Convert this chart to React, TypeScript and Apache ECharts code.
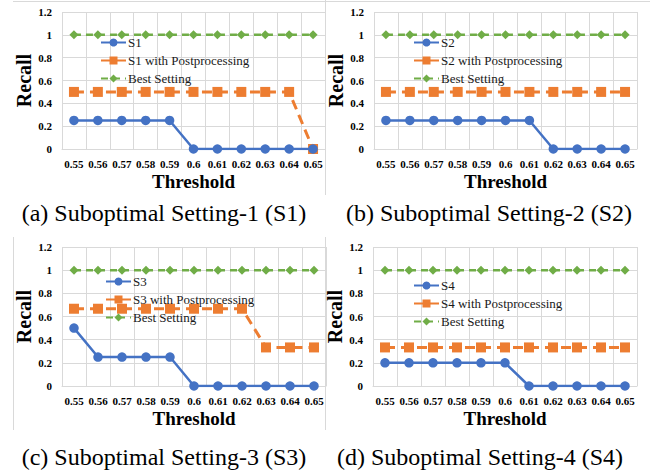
import React, { useEffect, useRef } from "react";
import * as echarts from "echarts";

const categories = ["0.55", "0.56", "0.57", "0.58", "0.59", "0.6", "0.61", "0.62", "0.63", "0.64", "0.65"];

const s1 = [0.25, 0.25, 0.25, 0.25, 0.25, 0, 0, 0, 0, 0, 0];
const s1Post = [0.5, 0.5, 0.5, 0.5, 0.5, 0.5, 0.5, 0.5, 0.5, 0.5, 0];
const s2 = [0.25, 0.25, 0.25, 0.25, 0.25, 0.25, 0.25, 0, 0, 0, 0];
const s2Post = [0.5, 0.5, 0.5, 0.5, 0.5, 0.5, 0.5, 0.5, 0.5, 0.5, 0.5];
const s3 = [0.5, 0.25, 0.25, 0.25, 0.25, 0, 0, 0, 0, 0, 0];
const s3Post = [0.667, 0.667, 0.667, 0.667, 0.667, 0.667, 0.667, 0.667, 0.333, 0.333, 0.333];
const s4 = [0.2, 0.2, 0.2, 0.2, 0.2, 0.2, 0, 0, 0, 0, 0];
const s4Post = [0.333, 0.333, 0.333, 0.333, 0.333, 0.333, 0.333, 0.333, 0.333, 0.333, 0.333];
const best = [1, 1, 1, 1, 1, 1, 1, 1, 1, 1, 1];

const panelNames = ["S1", "S2", "S3", "S4"];
const captions = [
  "(a) Suboptimal Setting-1 (S1)",
  "(b) Suboptimal Setting-2 (S2)",
  "(c) Suboptimal Setting-3 (S3)",
  "(d) Suboptimal Setting-4 (S4)",
];
const panelData = [
  [s1, s1Post],
  [s2, s2Post],
  [s3, s3Post],
  [s4, s4Post],
];

const SERIF = "Liberation Serif";
const BLUE = "#4472C4";
const ORANGE = "#ED7D31";
const GREEN = "#70AD47";
const GRIDC = "#d9d9d9";

// layout
const grids = [
  { left: 62, top: 12, width: 263, height: 137 },
  { left: 374, top: 12, width: 263, height: 137 },
  { left: 62, top: 247, width: 264, height: 139 },
  { left: 373, top: 247, width: 264, height: 139 },
];
const legendPos = [
  { left: 100, top: 36 },
  { left: 413, top: 36 },
  { left: 105, top: 275 },
  { left: 413, top: 279 },
];
const captionPos = [
  { x: 164, y: 213 },
  { x: 489, y: 213 },
  { x: 164, y: 457 },
  { x: 480, y: 457 },
];

export default function App() {
  const ref = useRef<HTMLDivElement>(null);
  useEffect(() => {
    if (!ref.current) return;
    const chart = echarts.init(ref.current, null, { renderer: "svg" });
    const grid: any[] = [];
    const xAxis: any[] = [];
    const yAxis: any[] = [];
    const series: any[] = [];
    const legend: any[] = [];
    const graphic: any[] = [];
    panelNames.forEach((nm, i) => {
      grid.push({ ...grids[i], containLabel: false });
      xAxis.push({
        type: "category",
        gridIndex: i,
        data: categories,
        boundaryGap: true,
        axisLine: { show: true, lineStyle: { color: GRIDC, width: 1 } },
        axisTick: { show: false },
        splitLine: { show: true, interval: 0, lineStyle: { color: GRIDC, width: 1 } },
        axisLabel: {
          interval: 0,
          margin: 9,
          fontFamily: SERIF,
          fontWeight: "bold",
          fontSize: 11,
          color: "#000",
        },
        name: "Threshold",
        nameLocation: "middle",
        nameGap: 23,
        nameTextStyle: { fontFamily: SERIF, fontWeight: "bold", fontSize: 19, color: "#000" },
      });
      yAxis.push({
        type: "value",
        gridIndex: i,
        min: 0,
        max: 1.2,
        interval: 0.2,
        axisLine: { show: false },
        axisTick: { show: false },
        splitLine: { show: true, lineStyle: { color: GRIDC, width: 1 } },
        axisLabel: {
          margin: 10,
          fontFamily: SERIF,
          fontWeight: "bold",
          fontSize: 11,
          color: "#000",
          formatter: (v: number) => String(parseFloat(v.toFixed(1))),
        },
        name: "Recall",
        nameLocation: "middle",
        nameGap: 22,
        nameRotate: 90,
        nameTextStyle: { fontFamily: SERIF, fontWeight: "bold", fontSize: 20, color: "#000" },
      });
      const [sv, pv] = panelData[i];
      const postName = nm + " with Postprocessing";
      series.push({
        name: nm,
        type: "line",
        xAxisIndex: i,
        yAxisIndex: i,
        data: sv,
        symbol: "circle",
        symbolSize: 9.5,
        itemStyle: { color: BLUE },
        lineStyle: { color: BLUE, width: 2.5 },
        z: 4,
      });
      series.push({
        name: postName,
        type: "line",
        xAxisIndex: i,
        yAxisIndex: i,
        data: pv,
        symbol: "rect",
        symbolSize: 10,
        itemStyle: { color: ORANGE },
        lineStyle: { color: ORANGE, width: 3, type: [10, 6] },
        z: 3,
      });
      series.push({
        name: "Best Setting",
        type: "line",
        xAxisIndex: i,
        yAxisIndex: i,
        data: best,
        symbol: "diamond",
        symbolSize: [9, 9],
        itemStyle: { color: GREEN },
        lineStyle: { color: GREEN, width: 2.5, type: [7, 5] },
        z: 2,
      });
      legend.push({
        orient: "vertical",
        ...legendPos[i],
        data: [nm, postName, "Best Setting"],
        itemWidth: 25,
        itemHeight: 10,
        itemGap: 5,
        padding: 0,
        selectedMode: false,
        textStyle: { fontFamily: SERIF, fontSize: 13, color: "#1a1a1a", padding: [0, 0, 0, -3] },
      });
      graphic.push({
        type: "text",
        x: captionPos[i].x,
        y: captionPos[i].y,
        style: {
          text: captions[i],
          fontFamily: SERIF,
          fontSize: 24,
          fill: "#000",
          textAlign: "center",
          textVerticalAlign: "middle",
          align: "center",
          verticalAlign: "middle",
        },
      });
    });
    const border = { stroke: GRIDC, lineWidth: 1 };
    graphic.push(
      { type: "line", shape: { x1: 13, y1: 1.5, x2: 650, y2: 1.5 }, style: border },
      { type: "line", shape: { x1: 325.5, y1: 0, x2: 325.5, y2: 195 }, style: border },
      { type: "line", shape: { x1: 325.5, y1: 237, x2: 325.5, y2: 430 }, style: border },
      { type: "line", shape: { x1: 13.5, y1: 237, x2: 13.5, y2: 430 }, style: border }
    );
    chart.setOption({
      animation: false,
      backgroundColor: "#fff",
      grid,
      xAxis,
      yAxis,
      series,
      legend,
      graphic,
    });
    return () => chart.dispose();
  }, []);
  return (
    <div
      ref={ref}
      style={{ position: "fixed", left: 0, top: 0, width: 650, height: 474, background: "#fff" }}
    />
  );
}
